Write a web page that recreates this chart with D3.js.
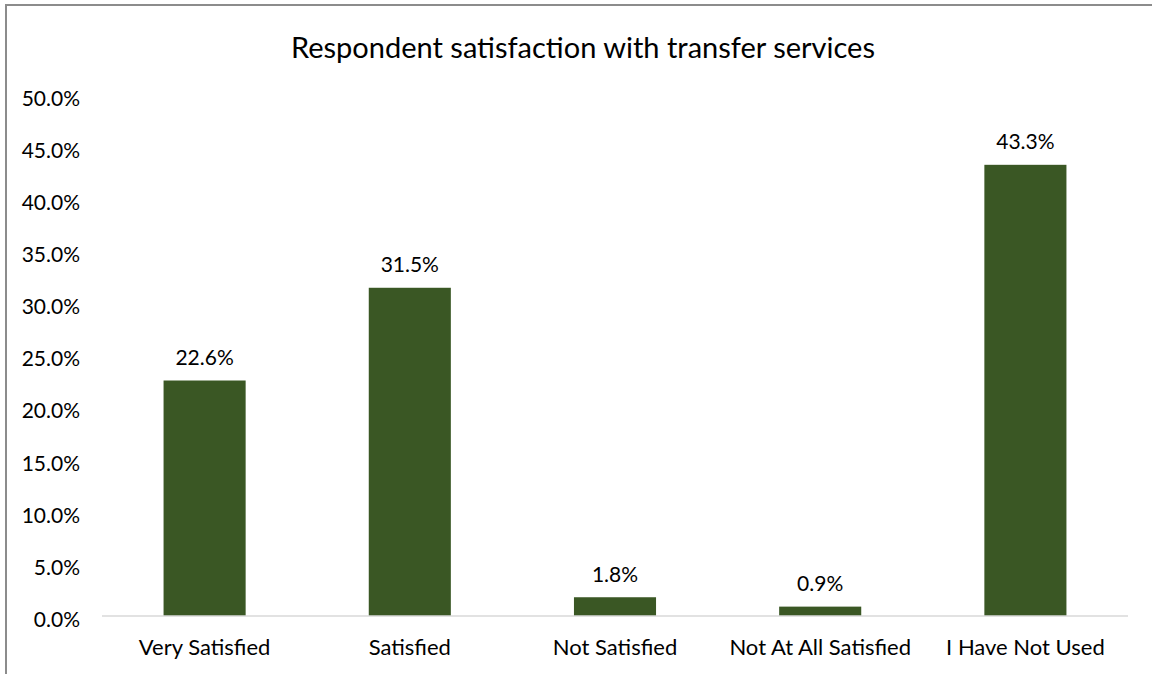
<!DOCTYPE html>
<html>
<head>
<meta charset="utf-8">
<script src="https://cdn.jsdelivr.net/npm/d3@7"></script>
<style>
  html, body { margin: 0; padding: 0; background: #fff; }
  svg { display: block; }
  text { font-family: "Gill Sans MT", "Gill Sans", Lato, "Noto Sans", sans-serif; fill: #000; }
</style>
</head>
<body>
<svg id="chart" width="1152" height="674"></svg>
<script>
// Survey results: share of respondents per satisfaction level
const categories = ["Very Satisfied", "Satisfied", "Not Satisfied", "Not At All Satisfied", "I Have Not Used"];
const values = [22.6, 31.5, 1.8, 0.9, 43.3];
const yTicks = [0, 5, 10, 15, 20, 25, 30, 35, 40, 45, 50];
const title = "Respondent satisfaction with transfer services";

const plot = { left: 102, right: 1128, top: 95, bottom: 616 };

const svg = d3.select("#chart");

// chart frame
svg.append("rect")
  .attr("x", 6).attr("y", 5)
  .attr("width", 1160).attr("height", 700)
  .attr("fill", "#fff")
  .attr("stroke", "#8c8c8c").attr("stroke-width", 2);

const x = d3.scaleBand()
  .domain(categories)
  .range([plot.left, plot.right])
  .paddingInner(0.6)
  .paddingOuter(0.3);

const y = d3.scaleLinear()
  .domain([0, 50])
  .range([plot.bottom, plot.top]);

// title
svg.append("text")
  .attr("x", 583).attr("y", 46)
  .attr("text-anchor", "middle")
  .attr("dominant-baseline", "central")
  .style("font-size", "29px")
  .text(title);

// y axis labels
const yAxis = d3.axisLeft(y)
  .tickValues(yTicks)
  .tickFormat(d => d.toFixed(1) + "%")
  .tickSize(0)
  .tickPadding(0);

const gy = svg.append("g")
  .attr("transform", `translate(80,3)`)
  .call(yAxis);
gy.select(".domain").remove();
gy.selectAll("text")
  .style("font-size", "21px")
  .attr("font-family", null)
  .attr("dy", "0.35em");

// bars
svg.append("g").selectAll("rect")
  .data(values)
  .join("rect")
  .attr("x", (d, i) => x(categories[i]))
  .attr("y", d => y(d))
  .attr("width", x.bandwidth())
  .attr("height", d => y(0) - y(d))
  .attr("fill", "#3A5724");

// baseline
svg.append("line")
  .attr("x1", plot.left).attr("x2", plot.right)
  .attr("y1", y(0)).attr("y2", y(0))
  .attr("stroke", "#d9d9d9").attr("stroke-width", 1.5);

// x axis labels
const xAxis = d3.axisBottom(x).tickSize(0).tickPadding(0);
const gx = svg.append("g")
  .attr("transform", `translate(0,${y(0)})`)
  .call(xAxis);
gx.select(".domain").remove();
gx.selectAll("text")
  .style("font-size", "22px")
  .attr("font-family", null)
  .attr("y", 31)
  .attr("dy", "0.35em");

// value labels
svg.append("g").selectAll("text")
  .data(values)
  .join("text")
  .attr("x", (d, i) => x(categories[i]) + x.bandwidth() / 2)
  .attr("y", d => y(d) - 24)
  .attr("text-anchor", "middle")
  .attr("dominant-baseline", "central")
  .style("font-size", "21px")
  .text(d => d.toFixed(1) + "%");
</script>
</body>
</html>
